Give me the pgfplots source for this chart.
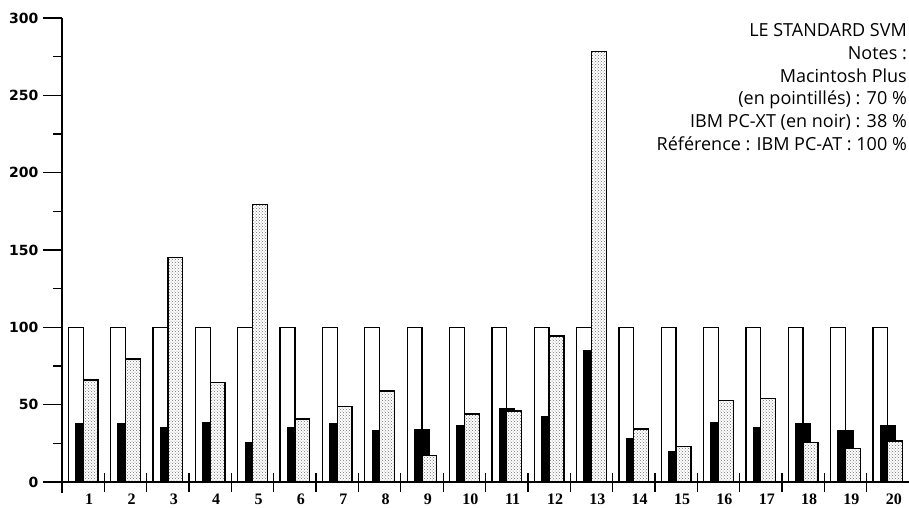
\documentclass[border=0pt]{standalone}
\usepackage{fontspec}
\setmainfont{Open Sans}
\newfontfamily\yfont{DejaVu Sans}
\newfontfamily\xfont{Liberation Serif}
\usepackage{pgfplots}
\usepackage{pgfplotstable}
\pgfplotsset{compat=1.18}
\usetikzlibrary{patterns}
\pgfplotstableread{
x white black dotted
1 100 38.0 66.0
2 100 38.0 79.5
3 100 35.0 145.3
4 100 38.6 64.5
5 100 25.7 179.5
6 100 35.0 40.7
7 100 37.7 48.7
8 100 33.2 58.8
9 100 33.6 17.2
10 100 36.6 44.0
11 100 47.6 45.9
12 100 42.2 94.4
13 100 84.9 278.2
14 100 27.8 34.3
15 100 19.4 22.8
16 100 38.6 52.6
17 100 35.0 54.0
18 100 37.7 25.4
19 100 33.0 21.8
20 100 36.6 26.5
}\data
\begin{document}
\begin{tikzpicture}
\begin{axis}[
  at={(0pt,0pt)}, anchor=south west, scale only axis,
  width=847pt, height=464pt,
  xmin=0.5, xmax=20.5, ymin=0, ymax=300,
  axis lines*=left,
  axis line style={line width=1.3pt},
  every tick/.style={line width=1.3pt, black},
  tick align=outside,
  /pgf/number format/assume math mode=true,
  ytick={0,50,...,300},
  minor y tick num=1,
  major tick length=19pt,
  minor tick length=9pt,
  yticklabel style={font=\yfont\bfseries\fontsize{14}{14}\selectfont, xshift=-1pt},
  xtick={1,...,20},
  xtick style={draw=none},
  xticklabel style={font=\xfont\bfseries\fontsize{16}{16}\selectfont, inner sep=0pt, xshift=6pt, yshift=7pt},
  extra x ticks={1.5,2.5,...,19.5},
  extra x tick labels={},
  extra x tick style={tick align=center, major tick length=19pt, xtick style={draw=black}},
  clip=false,
]
\addplot[ybar, bar width=0.35, bar shift=-0.175, fill=white, draw=black, line width=1.3pt] table[x=x, y=white] {\data};
\addplot[ybar, bar width=0.35, bar shift=0, fill=black, draw=black, line width=1.3pt] table[x=x, y=black] {\data};
\addplot[ybar, bar width=0.35, bar shift=0.175, preaction={fill=white}, pattern=crosshatch dots, pattern color=black!55, draw=black, line width=1.3pt] table[x=x, y=dotted] {\data};
\draw[line width=1.3pt] (axis cs:0.5,0) -- ++(0pt,-11pt);
\end{axis}
\begin{scope}[every node/.style={anchor=base east, inner sep=0pt, font=\fontsize{18}{18}\selectfont}]
\node at (845pt,445.3pt) {LE STANDARD SVM};
\node at (845pt,422pt) {Notes :};
\node at (845pt,399.7pt) {Macintosh Plus};
\node at (845pt,377pt) {(en pointillés) : 70 \%};
\node at (845pt,354pt) {IBM PC-XT (en noir) : 38 \%};
\node at (845pt,331.5pt) {Référence : IBM PC-AT : 100 \%};
\end{scope}
\pgfresetboundingbox
\path (-62pt,-25pt) rectangle (847pt,482pt);
\end{tikzpicture}
\end{document}
